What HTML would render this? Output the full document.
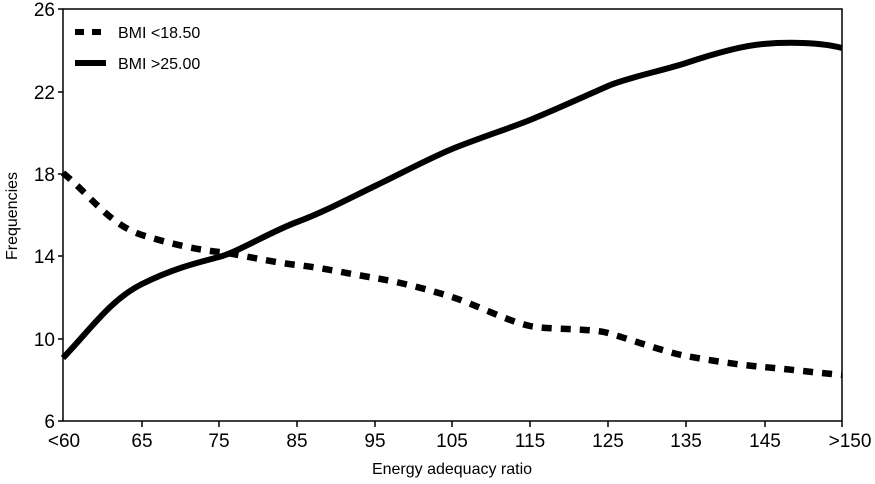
<!DOCTYPE html>
<html><head><style>body{margin:0;background:#fff}svg{display:block}text{font-family:"Liberation Sans",Arial,sans-serif;fill:#000}</style></head>
<body>
<svg width="875" height="484" viewBox="0 0 875 484" xmlns="http://www.w3.org/2000/svg">
<rect x="63" y="9" width="779" height="412" fill="none" stroke="#000" stroke-width="1.5"/>
<g stroke="#000" stroke-width="1.5">
<line x1="58" y1="9" x2="63" y2="9"/><line x1="58" y1="92" x2="63" y2="92"/><line x1="58" y1="174" x2="63" y2="174"/><line x1="58" y1="256" x2="63" y2="256"/><line x1="58" y1="339" x2="63" y2="339"/><line x1="58" y1="421" x2="63" y2="421"/>
<line x1="142" y1="421" x2="142" y2="427"/><line x1="219" y1="421" x2="219" y2="427"/><line x1="297" y1="421" x2="297" y2="427"/><line x1="375" y1="421" x2="375" y2="427"/><line x1="452" y1="421" x2="452" y2="427"/><line x1="530" y1="421" x2="530" y2="427"/><line x1="608" y1="421" x2="608" y2="427"/><line x1="686" y1="421" x2="686" y2="427"/><line x1="765" y1="421" x2="765" y2="427"/><line x1="842" y1="421" x2="842" y2="427"/>
</g>
<g font-size="19" text-anchor="end">
<text x="55" y="16">26</text><text x="55" y="99">22</text><text x="55" y="181">18</text><text x="55" y="263">14</text><text x="55" y="346">10</text><text x="55" y="428">6</text>
</g>
<g font-size="19" text-anchor="middle">
<text x="64" y="447">&lt;60</text><text x="142" y="447">65</text><text x="219" y="447">75</text><text x="297" y="447">85</text><text x="375" y="447">95</text><text x="452" y="447">105</text><text x="530" y="447">115</text><text x="608" y="447">125</text><text x="686" y="447">135</text><text x="765" y="447">145</text><text x="850" y="447">&gt;150</text>
</g>
<text x="452" y="474" font-size="16" text-anchor="middle">Energy adequacy ratio</text>
<text transform="translate(17,216) rotate(-90)" font-size="16" text-anchor="middle">Frequencies</text>
<path d="M63,358 C90,330 110,300 142,284 S200,262 219,257 S270,232 297,222 S350,198 375,186 S430,158 452,149 S510,128 530,120 S590,94 608,86 S665,70 686,63 S740,46 763,44 S820,42 842,48" fill="none" stroke="#000" stroke-width="6"/>
<path d="M63,173 C90,195 110,225 142,235 S200,250 219,252 S270,262 297,265 S350,274 375,278 S430,290 452,297 S510,322 530,326 S590,328 608,333 S665,352 686,356 S740,365 763,367 S820,373 842,375" fill="none" stroke="#000" stroke-width="6.5" stroke-dasharray="10,9"/>
<line x1="75" y1="32" x2="104" y2="32" stroke="#000" stroke-width="6" stroke-dasharray="9,8"/>
<line x1="75" y1="63" x2="106" y2="63" stroke="#000" stroke-width="6"/>
<text x="118" y="38" font-size="16">BMI &lt;18.50</text>
<text x="118" y="69" font-size="16">BMI &gt;25.00</text>
</svg>
</body></html>
